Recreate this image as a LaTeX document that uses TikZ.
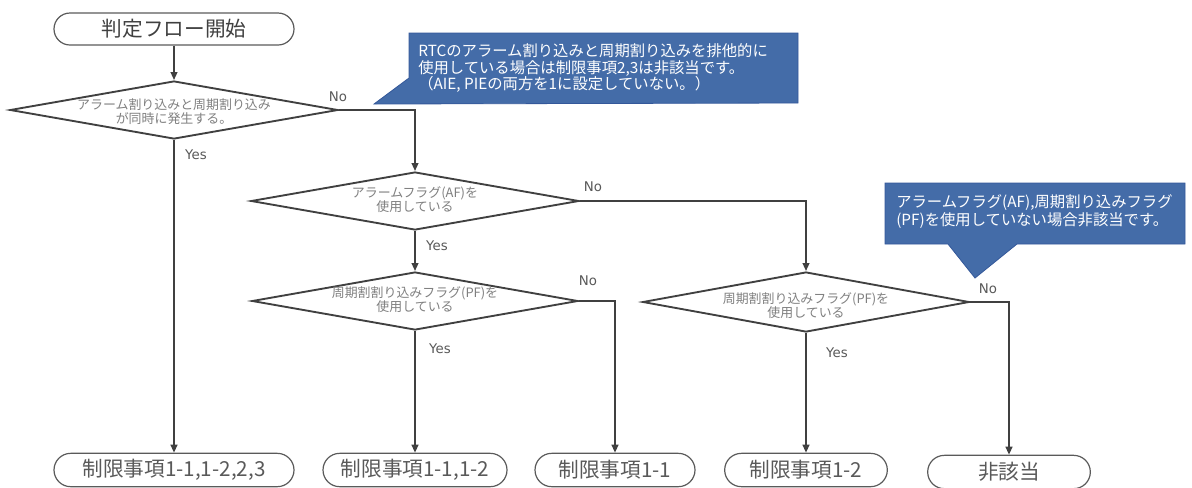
\documentclass[tikz,border=0pt]{standalone}
\usepackage{fontspec}
\setmainfont{Noto Sans CJK JP}
\newfontfamily\latinfont{DejaVu Sans}
\usetikzlibrary{shapes.geometric,shapes.misc,arrows.meta}
\definecolor{lineC}{HTML}{404040}
\definecolor{termC}{HTML}{5A5A5A}
\definecolor{txtC}{HTML}{595959}
\definecolor{dtxtC}{HTML}{7F7F7F}
\definecolor{calloutF}{HTML}{446CA8}
\definecolor{calloutD}{HTML}{34589A}
\begin{document}
\begin{tikzpicture}[x=0.75pt,y=-0.75pt,
  term/.style={rounded rectangle, draw=termC, line width=0.9pt, minimum height=25pt,
    inner sep=0pt, text=txtC, font=\fontsize{15.5}{17}\selectfont},
  dec/.style={diamond, draw=lineC, line width=1.4pt, inner sep=0pt},
  dtext/.style={align=center, text=dtxtC, inner sep=0pt, font=\fontsize{9.7}{10.5}\selectfont},
  conn/.style={draw=lineC, line width=1.4pt, -{Triangle[length=6pt,width=5pt]}},
  yn/.style={text=txtC, inner sep=0pt, font=\latinfont\fontsize{10}{12}\selectfont},
  cshape/.style={fill=calloutF, draw=calloutD, line width=0.6pt},
  ctext/.style={align=left, text=white, inner sep=0pt, font=\fontsize{11.5}{12.6}\selectfont}
]
\useasboundingbox (0,0) rectangle (1192,487);

% start
\node[term, minimum width=180pt, minimum height=24pt, text=lineC] (start) at (174,29) {判定フロー開始};

% decisions
\node[dec, minimum width=246pt, minimum height=43.5pt] (d1) at (174,110) {};
\node[dtext] (d1t) at (174,111.5) {アラーム割り込みと周期割り込み\\が同時に発生する。};

\node[dec, minimum width=246pt, minimum height=43.5pt] (d2) at (415,201) {};
\node[dtext] (d2t) at (415,200) {アラームフラグ(AF)を\\使用している};

\node[dec, minimum width=244.5pt, minimum height=43.5pt] (d3) at (415,301) {};
\node[dtext] (d3t) at (415,300) {周期割割り込みフラグ(PF)を\\使用している};

\node[dec, minimum width=245pt, minimum height=45pt] (d4) at (806,302) {};
\node[dtext] (d4t) at (806,306) {周期割割り込みフラグ(PF)を\\使用している};

% terminals
\node[term, minimum width=180pt] (t1) at (174,470) {制限事項1-1,1-2,2,3};
\node[term, minimum width=138pt] (t2) at (415,470) {制限事項1-1,1-2};
\node[term, minimum width=120pt] (t3) at (615,470) {制限事項1-1};
\node[term, minimum width=122pt] (t4) at (806,470) {制限事項1-2};
\node[term, minimum width=122pt] (t5) at (1009,472) {非該当};

% connectors
\draw[conn] (start.south) -- (d1.north);
\draw[conn] (d1.south) -- (t1.north);
\draw[conn] (d1.east) -| (d2.north);
\draw[conn] (d2.south) -- (d3.north);
\draw[conn] (d2.east) -| (d4.north);
\draw[conn] (d3.south) -- (t2.north);
\draw[conn] (d3.east) -| (t3.north);
\draw[conn] (d4.south) -- (t4.north);
\draw[conn] (d4.east) -| (t5.north);

% yes / no labels
\node[yn] (y1) at (196,155) {Yes};
\node[yn] (n1) at (338,97) {No};
\node[yn] (y2) at (437,246) {Yes};
\node[yn] (n2) at (593,187) {No};
\node[yn] (y3) at (440,349) {Yes};
\node[yn] (n3) at (588,281) {No};
\node[yn] (y4) at (837,353) {Yes};
\node[yn] (n4) at (988,289) {No};

% callout 1
\path[cshape] (409,33) -- (798,33) -- (798,103) -- (374,104) -- (409,78) -- cycle;
\node[ctext, anchor=west] (c1t) at (418,68)
  {RTCのアラーム割り込みと周期割り込みを排他的に\\使用している場合は制限事項2,3は非該当です。\\（AIE, PIEの両方を1に設定していない。）};

% callout 2
\path[cshape] (885,183) -- (1185,183) -- (1185,244) -- (1017,244) -- (975,278) -- (948,244) -- (885,244) -- cycle;
\node[ctext, anchor=west, font=\fontsize{11.5}{13.5}\selectfont] (c2t) at (896,212)
  {アラームフラグ(AF),周期割り込みフラグ\\(PF)を使用していない場合非該当です。};
\end{tikzpicture}
\end{document}
